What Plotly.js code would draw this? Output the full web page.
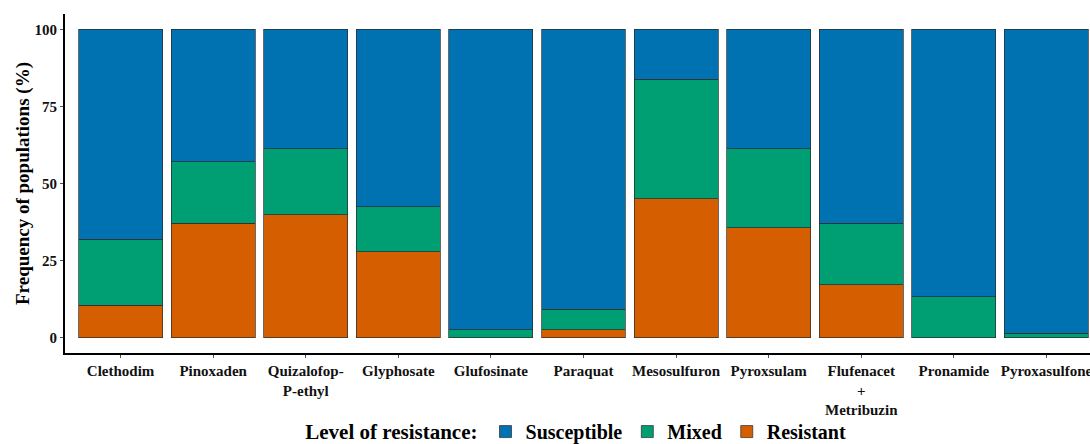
<!DOCTYPE html>
<html>
<head>
<meta charset="utf-8">
<script src="https://cdn.plot.ly/plotly-3.0.1.min.js"></script>
<style>
html,body{margin:0;padding:0;overflow:hidden;background:#fff;width:1090px;height:444px;}
#chart{width:1105px;height:444px;}
</style>
</head>
<body>
<div id="chart"></div>
<script>
const categories = ["Clethodim","Pinoxaden","Quizalofop-<br>P-ethyl","Glyphosate","Glufosinate","Paraquat","Mesosulfuron","Pyroxsulam","Flufenacet<br>+<br>Metribuzin","Pronamide","Pyroxasulfone"];
const resistant   = [10.5, 37.1, 39.8, 27.8, 0.0, 2.5, 45.1, 35.7, 17.2, 0.0, 0.0];
const mixed       = [21.4, 20.0, 21.4, 14.6, 2.5, 6.7, 38.7, 25.5, 19.9, 13.2, 1.4];
const susceptible = resistant.map((r,i)=> 100 - r - mixed[i]);

const colors = {Susceptible:"#0072B2", Mixed:"#009E73", Resistant:"#D55E00"};
const FONT = "Liberation Serif, serif";
const line = {color:"#2b2b2b", width:0.7};

const traces = [
  {name:"Resistant", y:resistant},
  {name:"Mixed", y:mixed},
  {name:"Susceptible", y:susceptible}
].map(t => ({
  type:"bar", x:categories, y:t.y, name:t.name,
  marker:{color:colors[t.name], line:line}, hoverinfo:"x+y+name"
}));

const layout = {
  width:1105, height:444,
  margin:{l:65, r:3, t:14, b:91},
  paper_bgcolor:"#fff", plot_bgcolor:"#fff",
  barmode:"stack", bargap:0.093,
  font:{family:FONT, color:"#000", weight:"bold"},
  xaxis:{
    type:"category", range:[-0.6, 10.6],
    showline:true, linecolor:"#000", linewidth:2,
    ticks:"outside", ticklen:3, tickcolor:"#555", tickwidth:1,
    tickfont:{family:FONT, size:15, color:"#111", weight:"bold"},
    showgrid:false, zeroline:false, fixedrange:true
  },
  yaxis:{
    range:[-5,105], tickvals:[0,25,50,75,100],
    showline:true, linecolor:"#000", linewidth:2,
    ticks:"outside", ticklen:3, tickcolor:"#555", tickwidth:1,
    tickfont:{family:FONT, size:15, color:"#111", weight:"bold"},
    showgrid:false, zeroline:false, fixedrange:true,
    title:{text:"Frequency of populations (%)", font:{family:FONT, size:19, weight:"bold", color:"#000"}, standoff:0}
  },
  showlegend:true,
  legend:{
    orientation:"h", xref:"paper", x:0.494, xanchor:"center",
    yref:"container", y:0.028, yanchor:"middle",
    bgcolor:"rgba(0,0,0,0)",
    traceorder:"reversed",
    font:{family:FONT, size:20, weight:"bold", color:"#000"},
    title:{text:"Level of resistance:", side:"left", font:{family:FONT, size:21, weight:"bold", color:"#000"}},
    itemwidth:30, tracegroupgap:0
  }
};

Plotly.newPlot("chart", traces, layout, {displayModeBar:false, staticPlot:true});
</script>
</body>
</html>
